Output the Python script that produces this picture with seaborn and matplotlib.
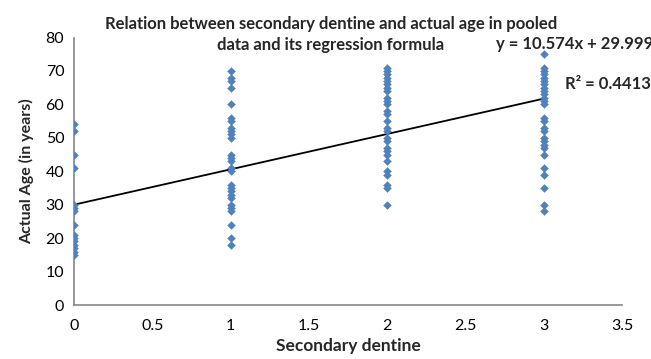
import numpy as np
import pandas as pd
import seaborn as sns
import matplotlib.pyplot as plt

# ages, grouped by secondary dentine score
ages_0 = [54, 52, 45, 41, 30, 29, 28, 24, 21, 20, 19, 18, 17, 16, 15]
ages_1 = [70, 68, 67, 65, 60, 56, 55, 53, 52, 51, 50, 45, 44, 43, 41, 40,
          36, 35, 34, 33, 32, 30, 29, 28, 24, 20, 18]
ages_2 = [71, 70, 69, 68, 67, 66, 65, 64, 62, 61, 60, 58, 57, 55, 53, 52,
          50, 49, 47, 46, 45, 43, 40, 39, 36, 35, 30]
ages_3 = [75, 71, 70, 69, 68, 67, 66, 65, 64, 63, 62, 61, 60, 56, 55, 53,
          52, 50, 49, 48, 47, 45, 41, 39, 35, 30, 28]

scores = [0, 1, 2, 3]
x_ticks = [0, 0.5, 1, 1.5, 2, 2.5, 3, 3.5]
y_ticks = [0, 10, 20, 30, 40, 50, 60, 70, 80]

# trendline as printed on the chart
slope = 10.574
intercept = 29.999
eq_text = "y = 10.574x + 29.999"
r2_text = "R² = 0.4413"

rows = []
for s, ages in zip(scores, [ages_0, ages_1, ages_2, ages_3]):
    for a in ages:
        rows.append({"dentine": s, "age": a})
df = pd.DataFrame(rows)

line_x = np.array([min(scores), max(scores)])
trend = pd.DataFrame({"dentine": line_x, "age": slope * line_x + intercept})

sns.set_style("white")
plt.rcParams['font.family'] = ['Lato', 'DejaVu Sans']

fig = plt.figure(figsize=(6.51, 3.59), dpi=100)
ax = fig.add_axes([0.1137, 0.1504, 0.8418, 0.7451])

sns.scatterplot(data=df, x="dentine", y="age", ax=ax, marker="D", s=16,
                color="#4f81bd", edgecolor="#4f81bd", linewidth=0.3, zorder=3)
sns.lineplot(data=trend, x="dentine", y="age", ax=ax, color="black", lw=1.3, zorder=2)

ax.set_xlim(0, 3.5)
ax.set_ylim(0, 80)
ax.set_xticks(x_ticks)
ax.set_xticklabels([f"{t:g}" for t in x_ticks])
ax.set_yticks(y_ticks)

for side in ["top", "right"]:
    ax.spines[side].set_visible(False)
for side in ["left", "bottom"]:
    ax.spines[side].set_color("#868686")
    ax.spines[side].set_linewidth(1.2)
ax.tick_params(axis="both", which="major", direction="out", length=4,
               color="#868686", width=1, labelsize=11.5, labelcolor="black")
ax.tick_params(axis="x", pad=6)
ax.tick_params(axis="y", pad=3)

ax.set_xlabel("Secondary dentine", fontsize=12.5, fontweight="bold", labelpad=4)
ax.set_ylabel("Actual Age (in years)", fontsize=11.5, fontweight="bold", labelpad=8)

fig.text(0.508, 0.904, "Relation between secondary dentine and actual age in pooled\ndata and its regression formula",
         ha="center", va="center", fontsize=12, fontweight="bold", linespacing=1.45)
fig.text(0.762, 0.877, eq_text, ha="left", va="center", fontsize=12, fontweight="bold")
fig.text(0.868, 0.766, r2_text, ha="left", va="center", fontsize=12, fontweight="bold")

fig.savefig("out.png", dpi=100)
